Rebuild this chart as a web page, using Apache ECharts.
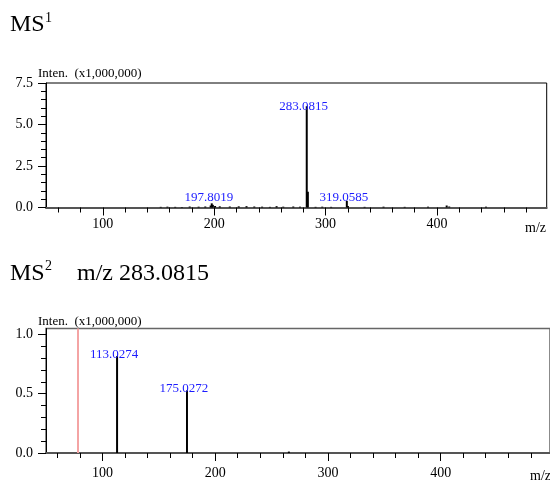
<!DOCTYPE html>
<html><head><meta charset="utf-8">
<script src="https://cdn.jsdelivr.net/npm/echarts@6/dist/echarts.min.js"></script>
<style>html,body{margin:0;padding:0;background:#fff}#c{width:550px;height:480px}</style>
</head><body><div id="c"></div>
<script>
// ---- MS1 spectrum (intensity x1,000,000) ----
const ms1Mz  = [152, 158, 165, 171, 178, 186, 192, 196.8, 197.8019, 198.8, 200.8, 205, 214, 222, 229, 236, 243, 250, 256, 262, 271, 277, 283.0815, 284.08, 291, 297, 305, 319.0585, 320.06, 335, 352, 371, 392, 408.7, 411, 444];
const ms1Int = [0.04, 0.05, 0.04, 0.03, 0.06, 0.05, 0.06, 0.12, 0.25, 0.16, 0.09, 0.07, 0.06, 0.07, 0.08, 0.06, 0.05, 0.04, 0.08, 0.05, 0.06, 0.05, 6.1, 0.95, 0.04, 0.05, 0.04, 0.40, 0.09, 0.04, 0.05, 0.04, 0.05, 0.12, 0.06, 0.05];
const ms1Labels = ['197.8019', '283.0815', '319.0585'];

// ---- MS2 spectrum of m/z 283.0815 ----
const ms2Mz  = [113.0274, 175.0272, 265.4];
const ms2Int = [0.817, 0.528, 0.012];
const ms2Labels = ['113.0274', '175.0272'];
const ms2MarkerMz = 78.6;

// ---- ticks ----
const xMajorTicks = [100, 200, 300, 400];
const xMinorTicks = [60, 80, 120, 140, 160, 180, 220, 240, 260, 280, 320, 340, 360, 380, 420, 440, 460, 480];
const ms1YMajor = [0, 2.5, 5.0, 7.5];
const ms1YMinor = [0.5, 1.0, 1.5, 2.0, 3.0, 3.5, 4.0, 4.5, 5.5, 6.0, 6.5, 7.0];
const ms2YMajor = [0, 0.5, 1.0];
const ms2YMinor = [0.1, 0.2, 0.3, 0.4, 0.6, 0.7, 0.8, 0.9];

const FONT = 'Liberation Serif';
// label fine placement (style, not data)
const labelShift = { '197.8019': -4, '283.0815': 2, '319.0585': -2 };
const chart = echarts.init(document.getElementById('c'));

function toData(mz, inten, labels) {
  return mz.map((m, i) => {
    const lab = labels.find(l => Math.abs(parseFloat(l) - m) < 1e-6);
    const dy = lab && labelShift[lab] ? labelShift[lab] : 0;
    return { value: [m, inten[i]], name: lab || '', label: { show: !!lab, offset: [-3, dy] } };
  });
}

function xAxes(gridIndex, min, max, margin) {
  return [
    { type: 'value', gridIndex, min, max, position: 'bottom',
      axisLine: { show: true, onZero: false, lineStyle: { color: '#555', width: 2 } },
      axisTick: { show: true, customValues: xMajorTicks, length: 8, lineStyle: { color: '#000', width: 1 } },
      axisLabel: { show: true, customValues: xMajorTicks, margin, fontFamily: FONT, fontSize: 14, color: '#000' },
      splitLine: { show: false } },
    { type: 'value', gridIndex, min, max, position: 'bottom',
      axisLine: { show: false },
      axisTick: { show: true, customValues: xMinorTicks, length: 5, lineStyle: { color: '#000', width: 1 } },
      axisLabel: { show: false }, splitLine: { show: false } }
  ];
}
function yAxes(gridIndex, max, major, minor) {
  return [
    { type: 'value', gridIndex, min: 0, max, position: 'left',
      axisLine: { show: true, onZero: false, lineStyle: { color: '#000', width: 1 } },
      axisTick: { show: true, customValues: major, length: 8, lineStyle: { color: '#000', width: 1 } },
      axisLabel: { show: true, customValues: major, margin: 13, fontFamily: FONT, fontSize: 14, color: '#000',
                   formatter: v => v.toFixed(1) },
      splitLine: { show: false } },
    { type: 'value', gridIndex, min: 0, max, position: 'left',
      axisLine: { show: false },
      axisTick: { show: true, customValues: minor, length: 5, lineStyle: { color: '#000', width: 1 } },
      axisLabel: { show: false }, splitLine: { show: false } }
  ];
}

const labelStyle = {
  position: 'top', distance: -5,
  color: '#1c1cff', fontFamily: FONT, fontSize: 13,
  formatter: p => p.name
};

function txt(text, x, y, size, align) {
  return { type: 'text', x, y, silent: true,
    style: { text, fontFamily: FONT, fontSize: size, fill: '#000', align: align || 'left', verticalAlign: 'middle' } };
}

chart.setOption({
  animation: false,
  backgroundColor: '#fff',
  grid: [
    { left: 46, top: 83, width: 500.7, height: 124.5, show: true, borderColor: '#000', borderWidth: 1 },
    { left: 46, top: 328.5, width: 504, height: 127.2, show: true, borderColor: '#666', borderWidth: 1.5 }
  ],
  xAxis: [...xAxes(0, 49, 498.5, 10), ...xAxes(1, 50, 497, 13)],
  yAxis: [...yAxes(0, 7.5, ms1YMajor, ms1YMinor), ...yAxes(1, 1.05, ms2YMajor, ms2YMinor)],
  series: [
    { type: 'bar', xAxisIndex: 0, yAxisIndex: 0, barWidth: 2,
      itemStyle: { color: '#000' }, label: labelStyle,
      data: toData(ms1Mz, ms1Int, ms1Labels) },
    { type: 'bar', xAxisIndex: 2, yAxisIndex: 2, barWidth: 2,
      itemStyle: { color: '#000' }, label: labelStyle,
      data: toData(ms2Mz, ms2Int, ms2Labels),
      markLine: { silent: true, symbol: 'none', label: { show: false },
        lineStyle: { color: '#f4a4a4', width: 2, type: 'solid' },
        data: [{ xAxis: ms2MarkerMz }] } }
  ],
  graphic: [
    txt('MS', 10, 24.5, 24),
    txt('1', 45, 18, 14),
    txt('Inten.  (x1,000,000)', 38, 73.5, 13),
    txt('m/z', 546, 228, 14, 'right'),
    txt('MS', 10, 274, 24),
    txt('2', 45, 266.7, 14),
    txt('m/z 283.0815', 77, 274, 24),
    txt('Inten.  (x1,000,000)', 38, 321.3, 13),
    txt('m/z', 530, 476, 14)
  ]
});
</script></body></html>
